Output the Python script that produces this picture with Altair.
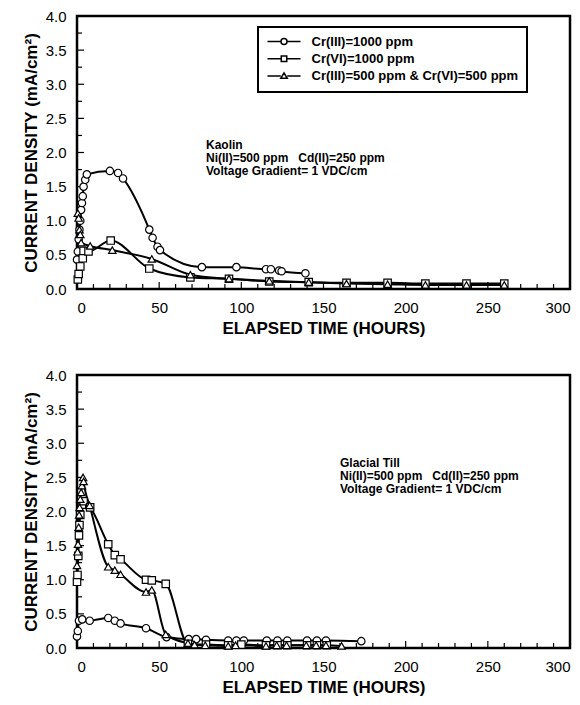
import altair as alt
import pandas as pd

# ---- series labels -------------------------------------------------------
SERIES = ["Cr(III)=1000 ppm", "Cr(VI)=1000 ppm", "Cr(III)=500 ppm & Cr(VI)=500 ppm"]
SHAPES = ["circle", "square", "triangle-up"]

# ---- Kaolin -------------------------------------------------------------
kaolin_cr3_t = [0, 0.5, 1, 1.5, 2, 2.5, 3, 3.5, 4, 5, 6, 20, 25, 28, 44, 46, 49, 50.5,
                76, 97, 115, 118, 123, 124.5, 139]
kaolin_cr3_j = [0.43, 0.55, 0.73, 0.87, 1.0, 1.16, 1.26, 1.36, 1.5, 1.6, 1.68, 1.73, 1.70,
                1.62, 0.87, 0.75, 0.62, 0.57, 0.32, 0.32, 0.29, 0.29, 0.27, 0.26, 0.23]

kaolin_cr6_t = [0.5, 1, 2, 3.5, 4, 7, 20.5, 44, 69, 92.5, 117, 141, 164, 189, 212, 237, 260]
kaolin_cr6_j = [0.14, 0.22, 0.33, 0.45, 0.56, 0.55, 0.71, 0.30, 0.17, 0.15, 0.11, 0.10,
                0.09, 0.09, 0.08, 0.08, 0.08]

kaolin_mix_t = [0.5, 1, 1.5, 2, 2.5, 8, 21.5, 45.5, 69, 92.5, 117, 141, 164, 189, 212, 237, 260]
kaolin_mix_j = [1.11, 1.04, 0.87, 0.80, 0.68, 0.63, 0.57, 0.44, 0.21, 0.15, 0.12, 0.10,
                0.08, 0.07, 0.06, 0.06, 0.06]

# ---- Glacial till -------------------------------------------------------
till_cr3_t = [0, 0.5, 1.2, 3.2, 7.7, 19, 23, 26.5, 42, 54.5, 68, 72.5, 78.5, 92, 97, 101.5,
              115.5, 122, 128, 140, 146, 151.5, 173]
till_cr3_j = [0.17, 0.25, 0.40, 0.42, 0.40, 0.44, 0.40, 0.36, 0.29, 0.16, 0.13, 0.13, 0.12,
              0.11, 0.11, 0.11, 0.11, 0.11, 0.11, 0.11, 0.11, 0.11, 0.10]

till_cr6_t = [0, 0.3, 0.8, 1.2, 1.5, 2, 3, 4, 8, 19, 23, 26.5, 42, 45.5, 54, 67.5, 78.5, 92,
              100, 115, 122, 128, 140, 146, 152]
till_cr6_j = [0.97, 1.07, 1.35, 1.65, 1.80, 1.95, 2.10, 2.15, 2.06, 1.52, 1.36, 1.30, 1.00,
              0.99, 0.94, 0.06, 0.05, 0.04, 0.05, 0.04, 0.04, 0.04, 0.04, 0.04, 0.04]

till_mix_t = [0, 0.3, 0.6, 1, 1.3, 1.6, 2, 2.5, 3, 3.7, 4, 7.7, 19, 23, 26.5, 42, 45.5, 54,
              67.5, 71.5, 78, 92, 96.5, 115, 121.5, 127.5, 139.5, 145.5, 151.5, 161]
till_mix_j = [1.21, 1.41, 1.52, 1.77, 1.95, 2.06, 2.18, 2.28, 2.38, 2.50, 2.44, 2.09, 1.19,
              1.14, 1.08, 0.82, 0.85, 0.20, 0.07, 0.05, 0.04, 0.03, 0.04, 0.03, 0.04, 0.04,
              0.04, 0.04, 0.04, 0.03]

# ---- axes ---------------------------------------------------------------
x_ticks = [0, 50, 100, 150, 200, 250, 300]
y_ticks = [0.0, 0.5, 1.0, 1.5, 2.0, 2.5, 3.0, 3.5, 4.0]
x_minor = [v for v in range(10, 300, 10) if v % 50 != 0]
x_major = [50, 100, 150, 200, 250]
y_minor = [0.25, 0.75, 1.25, 1.75, 2.25, 2.75, 3.25, 3.75]
y_major = [0.5, 1.0, 1.5, 2.0, 2.5, 3.0, 3.5]

SP = "\u00a0" * 3
KAOLIN_NOTE = f"Kaolin\nNi(II)=500 ppm{SP}Cd(II)=250 ppm\nVoltage Gradient= 1 VDC/cm"
TILL_NOTE = f"Glacial Till\nNi(II)=500 ppm{SP}Cd(II)=250 ppm\nVoltage Gradient= 1 VDC/cm"

FONT = "Liberation Sans"
W, H = 493, 273

# legend glyphs: a short line with the marker in the middle
LEGEND_PATHS = [
    "M-3.3,0H-0.6M0.6,0H3.3M-0.6,0A0.6,0.6 0 1,0 0.6,0A0.6,0.6 0 1,0 -0.6,0Z",
    "M-3.3,0H-0.55M0.55,0H3.3M-0.55,-0.55H0.55V0.55H-0.55Z",
    "M-3.3,0H-0.65M0.65,0H3.3M-0.65,0.45L0,-0.65L0.65,0.45Z",
]

X = alt.X("t:Q", scale=alt.Scale(domain=[0, 300], nice=False),
          axis=alt.Axis(values=x_ticks, title="ELAPSED TIME (HOURS)"))
Y = alt.Y("j:Q", scale=alt.Scale(domain=[0, 4], nice=False),
          axis=alt.Axis(values=y_ticks, format=".1f", title="CURRENT DENSITY (mA/cm²)"))


def frame_ticks():
    """Inward-pointing tick marks along the bottom and left edges."""
    layers = []
    for vals, ln in ((x_minor, 5), (x_major, 7)):
        layers.append(
            alt.Chart(pd.DataFrame({"t": vals})).mark_rule(color="black", strokeWidth=1.2)
            .encode(x=X, y=alt.value(H), y2=alt.value(H - ln)))
    for vals, ln in ((y_minor, 5), (y_major, 7)):
        layers.append(
            alt.Chart(pd.DataFrame({"j": vals})).mark_rule(color="black", strokeWidth=1.2)
            .encode(y=Y, x=alt.value(0), x2=alt.value(ln)))
    return layers


def panel(series, note, note_x, note_y, legend):
    frames = [pd.DataFrame({"t": t, "j": j}) for t, j in series]
    lines = [alt.Chart(df).mark_line(color="black", strokeWidth=2, interpolate="monotone")
             .encode(x=X, y=Y) for df in frames]
    points = [alt.Chart(df).mark_point(shape=shp, filled=True, fill="white", stroke="black",
                                       strokeWidth=1.2, size=55, opacity=1)
              .encode(x=X, y=Y) for df, shp in zip(frames, SHAPES)]
    text = (alt.Chart(pd.DataFrame({"note": [note]}))
            .mark_text(align="left", baseline="alphabetic", font=FONT, fontSize=12,
                       fontWeight="bold", lineBreak="\n", lineHeight=13, color="black")
            .encode(x=alt.value(note_x), y=alt.value(note_y), text="note:N"))
    layers = frame_ticks() + lines + points + [text]
    if legend:
        key = (alt.Chart(pd.DataFrame({"series": SERIES}))
               .transform_filter("false")
               .mark_point(filled=False, color="black", strokeWidth=1.5, opacity=1)
               .encode(shape=alt.Shape(
                   "series:N",
                   scale=alt.Scale(domain=SERIES, range=LEGEND_PATHS),
                   legend=alt.Legend(
                       orient="none", legendX=181, legendY=11, title=None,
                       labelFont=FONT, labelFontWeight="bold", labelFontSize=13,
                       labelColor="black", labelLimit=400, symbolSize=100,
                       symbolStrokeColor="black", symbolStrokeWidth=1.5,
                       symbolOffset=11.5, labelOffset=21, padding=8, rowPadding=3.3,
                       strokeColor="black", fillColor="white"))))
        layers.append(key)
    return alt.layer(*layers).properties(width=W, height=H)


top = panel([(kaolin_cr3_t, kaolin_cr3_j), (kaolin_cr6_t, kaolin_cr6_j),
             (kaolin_mix_t, kaolin_mix_j)], KAOLIN_NOTE, 129, 133, True)
bottom = panel([(till_cr3_t, till_cr3_j), (till_cr6_t, till_cr6_j),
                (till_mix_t, till_mix_j)], TILL_NOTE, 263, 92, False)

chart = (
    alt.vconcat(top, bottom, spacing=28)
    .properties(padding={"left": 20, "top": 7, "right": 5, "bottom": 3})
    .configure_view(stroke="black", strokeWidth=2.5)
    .configure_axis(domain=False, ticks=False, tickSize=0, grid=False, labelFont=FONT,
                    labelFontSize=15, labelColor="black", titleFont=FONT,
                    titleFontSize=17, titleFontWeight="bold", titleColor="black")
    .configure_axisX(labelPadding=11, titlePadding=5)
    .configure_axisY(labelPadding=11, titlePadding=5)
    .configure_legend(strokeWidth=2)
)

chart.save("out.html", embed_options={"renderer": "svg", "actions": False})
